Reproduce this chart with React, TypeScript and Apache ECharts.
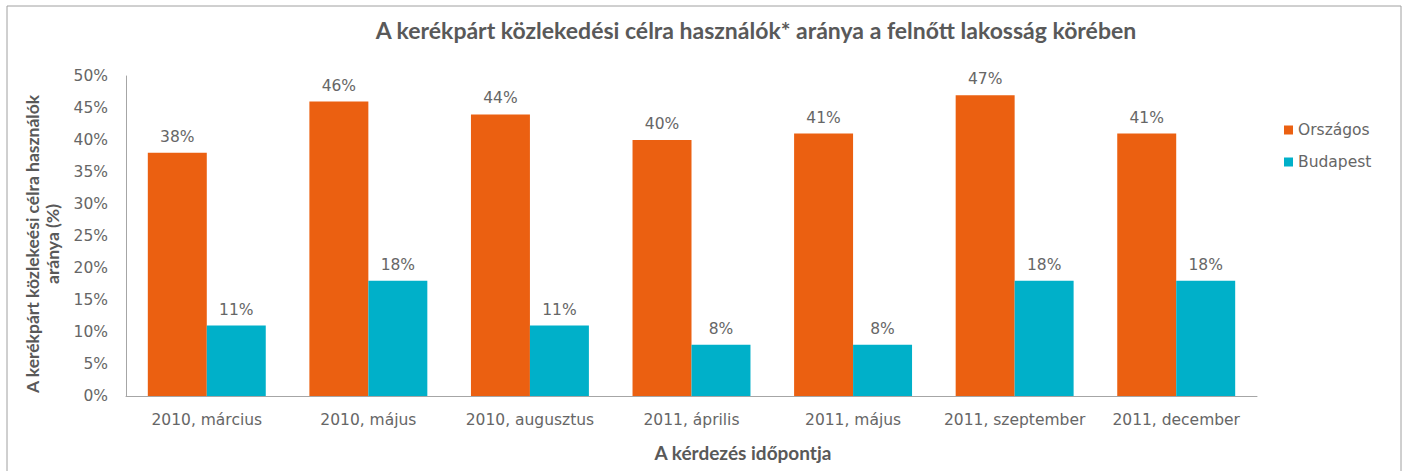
import React, { useEffect, useRef } from "react";
import * as echarts from "echarts";

const categories = [
  "2010, március",
  "2010, május",
  "2010, augusztus",
  "2011, április",
  "2011, május",
  "2011, szeptember",
  "2011, december",
];
const orszagos = [38, 46, 44, 40, 41, 47, 41];
const budapest = [11, 18, 11, 8, 8, 18, 18];
const seriesNames = ["Országos", "Budapest"];
const titleText = "A kerékpárt közlekedési célra használók* aránya a felnőtt lakosság körében";
const yName = "A kerékpárt közlekeési célra használók\naránya (%)";
const xName = "A kérdezés időpontja";

const FONT = "Lato, 'Open Sans', sans-serif";
const LFONT = "'DejaVu Sans', Lato, sans-serif";
const GRAY = "#595959";
const LGRAY = "#666666";

export default function App() {
  const ref = useRef<HTMLDivElement>(null);
  useEffect(() => {
    if (!ref.current) return;
    const chart = echarts.init(ref.current, null, { renderer: "svg" });
    const labelStyle = {
      show: true,
      position: "top",
      distance: 8,
      formatter: "{c}%",
      fontFamily: LFONT,
      fontSize: 15.5,
      color: LGRAY,
    };
    chart.setOption({
      animation: false,
      backgroundColor: "#ffffff",
      textStyle: { fontFamily: FONT },
      title: {
        text: titleText,
        left: 751,
        top: 13,
        textAlign: "center",
        textStyle: { fontFamily: FONT, fontSize: 23, fontWeight: "bold", color: GRAY },
      },
      legend: {
        orient: "vertical",
        left: 1279,
        top: 117,
        itemWidth: 9,
        itemHeight: 9,
        itemGap: 16,
        icon: "rect",
        textStyle: { fontFamily: LFONT, fontSize: 15.5, color: LGRAY },
        data: seriesNames,
      },
      grid: { left: 126, right: 149, top: 76, bottom: 75, containLabel: false },
      xAxis: {
        type: "category",
        data: categories,
        axisLine: { show: true, lineStyle: { color: "#a6a6a6", width: 1 } },
        axisTick: { show: false },
        axisLabel: { fontFamily: LFONT, fontSize: 15.5, color: LGRAY, margin: 16, interval: 0 },
      },
      yAxis: {
        type: "value",
        min: 0,
        max: 50,
        interval: 5,
        name: yName,
        nameLocation: "middle",
        nameRotate: 90,
        nameGap: 63,
        nameTextStyle: {
          fontFamily: FONT,
          fontSize: 17.5,
          fontWeight: "bold",
          color: GRAY,
          lineHeight: 20,
          padding: [0, 16, 0, 0],
        },
        axisLine: { show: true, lineStyle: { color: "#a6a6a6", width: 1 } },
        axisTick: { show: false },
        splitLine: { show: false },
        axisLabel: { fontFamily: LFONT, fontSize: 15.5, color: LGRAY, margin: 18, formatter: "{value}%" },
      },
      graphic: [
        {
          type: "rect",
          shape: { x: 7, y: 6, width: 1394, height: 480 },
          style: { fill: "none", stroke: "#a0a0a0", lineWidth: 1 },
          silent: true,
          z: -10,
        },
        {
          type: "text",
          x: 743,
          y: 452,
          style: {
            text: xName,
            fontFamily: FONT,
            fontSize: 19,
            fontWeight: "bold",
            fill: GRAY,
            textAlign: "center",
            textVerticalAlign: "middle",
          },
        },
      ],
      series: [
        {
          name: seriesNames[0],
          type: "bar",
          data: orszagos,
          barGap: "0%",
          barCategoryGap: "27%",
          itemStyle: { color: "#EB6011" },
          label: labelStyle,
        },
        {
          name: seriesNames[1],
          type: "bar",
          data: budapest,
          barGap: "0%",
          barCategoryGap: "27%",
          itemStyle: { color: "#00B0C9" },
          label: labelStyle,
        },
      ],
    });
    return () => chart.dispose();
  }, []);
  return (
    <div
      ref={ref}
      style={{ position: "fixed", left: 0, top: 0, width: 1406, height: 471 }}
    />
  );
}
